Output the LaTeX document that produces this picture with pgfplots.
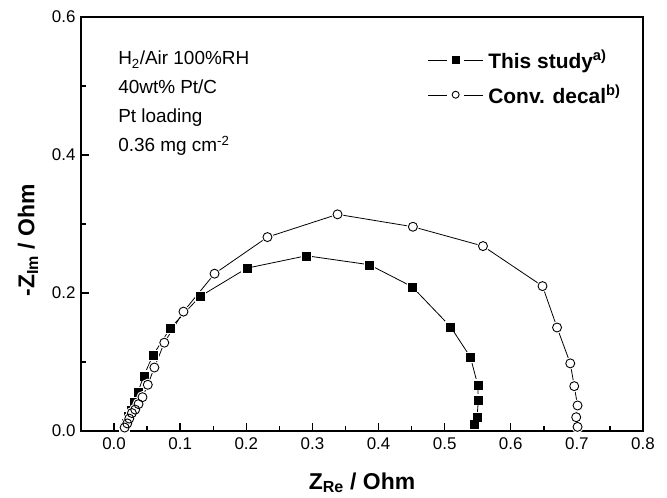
\documentclass[border=0pt]{standalone}
\usepackage{pgfplots}
\pgfplotsset{compat=1.18}
\usepackage{pgfplotstable}
\usepackage{fontspec}
\setmainfont{Liberation Sans}

% this study (filled squares)
\pgfplotstableread{
x y
0.016 0.006
0.019 0.011
0.022 0.021
0.026 0.030
0.030 0.042
0.036 0.056
0.045 0.080
0.059 0.110
0.085 0.149
0.130 0.195
0.201 0.236
0.291 0.254
0.386 0.241
0.451 0.209
0.509 0.151
0.539 0.107
0.550 0.067
0.551 0.045
0.549 0.020
0.544 0.010
}\study
% conventional decal (open circles)
\pgfplotstableread{
x y
0.016 0.005
0.020 0.011
0.023 0.018
0.027 0.026
0.032 0.031
0.037 0.039
0.043 0.049
0.051 0.067
0.061 0.092
0.076 0.128
0.105 0.173
0.152 0.228
0.232 0.281
0.338 0.314
0.452 0.296
0.558 0.268
0.648 0.210
0.670 0.150
0.690 0.098
0.696 0.065
0.701 0.037
0.699 0.020
0.701 0.006
}\decal

\begin{document}
\begin{tikzpicture}
\begin{axis}[
    scale only axis,
    width=562bp, height=414bp,
    xmin=-0.05, xmax=0.8,
    ymin=0, ymax=0.6,
    xtick={0,0.1,...,0.8},
    ytick={0,0.2,0.4,0.6},
    minor x tick num=1,
    minor y tick num=1,
    xtick pos=bottom, ytick pos=left,
    tick align=inside,
    major tick length=8bp, minor tick length=5bp,
    axis line style={line width=1.6bp},
    every tick/.style={line width=1.4bp, black},
    /pgf/number format/assume math mode=true,
    /pgf/number format/fixed,
    /pgf/number format/fixed zerofill,
    /pgf/number format/precision=1,
    xticklabel style={yshift=-3bp},
    yticklabel style={xshift=-2bp},
    tick label style={font=\fontsize{17}{20}\selectfont},
    xlabel={\textbf{Z\textsubscript{Re} / Ohm}},
    ylabel={\textbf{-Z\textsubscript{Im} / Ohm}},
    label style={font=\fontsize{23}{27}\selectfont},
    xlabel style={at={(rel axis cs:0.5,0)}, anchor=base, yshift=-58bp},
    ylabel style={at={(rel axis cs:0,0.46)}, anchor=center, yshift=53bp},
    legend style={at={(rel axis cs:0.617,0.92)}, anchor=north west, draw=none, fill=none,
        font=\bfseries\fontsize{21}{25}\selectfont, row sep=15bp, inner sep=0bp,
        nodes={inner xsep=5bp, inner ysep=0bp}},
    legend cell align=left,
    legend image code/.code={
        \draw[#1, mark=none] (0bp,0bp) -- (19bp,0bp);
        \draw[#1, mark=none] (36bp,0bp) -- (55bp,0bp);
        \draw[#1, mark size=3.5bp] plot coordinates {(27.5bp,0bp)};},
]
% lines
\addplot[black, line width=0.8bp, forget plot] table {\study};
\addplot[black, line width=0.8bp, forget plot] table {\decal};
% marks with a small white gap round them
\addplot[only marks, mark=square*, mark size=4bp, mark options={draw=white, fill=white, line width=3bp}, forget plot] table {\study};
\addplot[only marks, black, mark=square*, mark size=4bp, mark options={fill=black}] table {\study};
\addlegendentry{This study\textsuperscript{a)}}
\addplot[only marks, mark=*, mark size=4.5bp, mark options={draw=white, fill=white, line width=3bp}, forget plot] table {\decal};
\addplot[only marks, black, mark=o, mark size=4.5bp, mark options={fill=white, line width=0.9bp}] table {\decal};
\addlegendentry{Conv. decal\textsuperscript{b)}}
\node[anchor=north west, align=left, inner sep=0bp, font=\fontsize{19}{29}\selectfont]
    at (rel axis cs:0.066,0.918) {H\textsubscript{2}/Air 100\%RH\\40wt\% Pt/C\\Pt loading\\0.36 mg cm\textsuperscript{-2}};
\coordinate (sw) at (rel axis cs:0,0);
\coordinate (ne) at (rel axis cs:1,1);
\end{axis}
\pgfresetboundingbox
\useasboundingbox ([shift={(-81bp,-67bp)}]sw) rectangle ([shift={(24bp,17bp)}]ne);
\end{tikzpicture}
\end{document}
